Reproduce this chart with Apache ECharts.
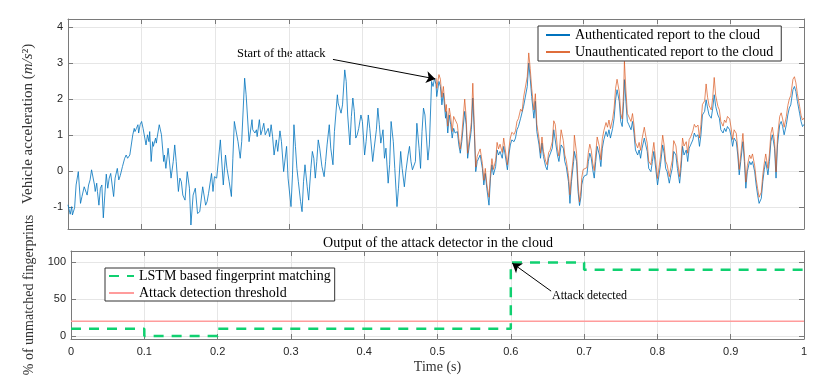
<!DOCTYPE html>
<html>
<head>
<meta charset="utf-8">
<script src="https://cdn.jsdelivr.net/npm/echarts@6/dist/echarts.min.js"></script>
<style>
  html, body { margin: 0; padding: 0; background: #fff; }
  #main { width: 830px; height: 381px; }
</style>
</head>
<body>
<div id="main"></div>
<script>
// acceleration (m/s^2) sent to the cloud, [time s, value]
const authenticated = [
  [0.000,-0.93],[0.002,-0.98],[0.003,-1.19],[0.005,-0.98],[0.006,-1.21],[0.009,-1.01],[0.011,-0.38],[0.012,-0.43],[0.014,-0.01],[0.017,-0.89],[0.019,-0.70],
  [0.020,-0.75],[0.022,-0.43],[0.024,-0.47],[0.026,-0.66],[0.028,-0.38],[0.030,-0.24],[0.032,0.04],[0.034,-0.01],[0.036,-0.38],[0.037,-0.56],
  [0.039,-0.33],[0.040,-0.56],[0.042,-0.94],[0.044,-0.47],[0.046,-0.38],[0.048,-1.29],[0.050,-0.66],[0.052,-0.08],[0.054,-0.47],[0.056,-0.19],
  [0.058,-0.06],[0.060,-0.38],[0.062,-0.70],[0.064,-0.19],[0.067,0.08],[0.069,-0.24],[0.071,-0.12],[0.073,-0.10],[0.074,0.13],[0.077,0.36],
  [0.079,0.45],[0.081,0.36],[0.084,0.45],[0.086,0.41],[0.088,1.01],[0.090,1.19],[0.091,1.10],[0.093,1.19],[0.095,1.29],[0.096,1.06],
  [0.098,1.29],[0.100,1.38],[0.102,1.19],[0.104,1.15],[0.106,0.73],[0.108,1.01],[0.110,0.82],[0.111,1.10],[0.113,0.27],[0.115,0.82],
  [0.116,0.69],[0.119,0.92],[0.120,0.78],[0.121,0.92],[0.124,1.29],[0.126,1.33],[0.127,1.01],[0.130,0.27],[0.131,0.45],[0.133,0.08],
  [0.136,0.64],[0.137,0.45],[0.140,-0.19],[0.143,0.27],[0.145,0.73],[0.147,0.27],[0.150,-0.56],[0.152,-0.19],[0.154,-0.29],[0.156,-0.66],
  [0.159,-0.80],[0.162,-0.01],[0.165,-0.47],[0.167,-1.49],
  [0.170,-0.66],[0.172,-0.70],[0.173,-0.47],[0.176,-1.17],[0.179,-1.12],[0.183,-0.43],[0.187,-0.94],[0.189,-0.84],[0.191,-0.61],[0.195,-0.06],
  [0.197,-0.56],[0.199,-0.15],[0.202,-0.19],[0.207,0.87],[0.211,-0.38],[0.214,0.45],[0.216,0.08],[0.219,-0.29],[0.222,-0.70],[0.224,0.36],
  [0.226,1.38],[0.228,1.33],[0.231,0.82],[0.234,0.36],[0.236,0.82],[0.240,2.58],[0.242,2.12],[0.246,0.82],[0.250,1.43],[0.251,1.15],
  [0.254,1.06],[0.256,1.15],[0.257,0.96],[0.260,1.43],[0.262,1.01],[0.264,1.15],[0.266,1.33],[0.268,1.01],[0.270,1.06],[0.272,1.19],
  [0.274,0.96],[0.276,1.29],[0.278,0.96],[0.280,0.45],[0.283,0.87],[0.285,0.55],[0.288,1.12],[0.290,0.82],[0.293,-0.01],[0.297,0.69],
  [0.299,-0.19],[0.303,-0.98],[0.305,-0.10],[0.307,1.29],[0.309,0.69],[0.311,0.08],[0.313,-0.29],[0.316,-0.84],[0.318,-1.12],[0.320,-0.29],
  [0.322,0.18],[0.325,-0.43],[0.327,-0.80],[0.330,0.08],[0.332,0.55],[0.334,0.36],
  [0.336,-0.19],[0.338,0.27],[0.340,0.87],[0.342,0.64],[0.345,0.13],[0.348,-0.15],[0.350,0.27],[0.352,0.73],[0.355,1.29],[0.357,0.64],
  [0.360,0.18],[0.362,1.10],[0.366,2.12],[0.367,1.89],[0.371,1.61],[0.373,1.84],[0.376,2.81],[0.378,2.49],[0.380,1.56],[0.383,0.73],
  [0.385,1.52],[0.387,2.03],[0.389,1.66],[0.391,0.92],[0.393,1.01],[0.395,1.19],[0.398,1.56],[0.400,1.38],[0.403,0.45],[0.405,0.82],
  [0.408,1.56],[0.410,1.19],[0.414,0.27],[0.416,0.64],[0.419,1.15],[0.421,1.75],[0.423,1.29],[0.425,0.78],[0.428,1.15],[0.430,0.36],
  [0.432,0.64],[0.435,-0.33],[0.437,0.18],[0.439,1.38],[0.442,0.82],[0.444,0.08],[0.447,-0.98],[0.449,-0.47],[0.452,0.55],[0.454,0.08],
  [0.457,-0.43],[0.459,-0.01],[0.462,0.45],[0.464,0.69],[0.466,0.27],[0.468,0.04],[0.470,-0.01],[0.472,0.27],[0.474,1.33],[0.477,0.64],
  [0.479,0.08],[0.481,1.10],[0.483,1.75],[0.485,1.56],[0.489,0.31],[0.491,0.73],[0.494,2.49],[0.496,2.35],[0.498,2.58],[0.500,2.40],
  [0.501,2.07],[0.504,2.49],[0.506,2.35],[0.508,1.84],[0.510,2.17],[0.513,1.47],[0.514,1.66],[0.516,1.06],[0.518,1.56],[0.520,1.29],
  [0.522,0.92],[0.524,1.19],[0.526,1.06],[0.529,1.10],[0.531,0.73],[0.533,0.50],[0.535,0.82],[0.539,1.66],[0.541,1.29],[0.543,0.36],
  [0.545,0.31],[0.548,1.15],[0.550,2.03],[0.552,1.10],[0.554,-0.01],[0.556,0.27],[0.558,0.22],[0.560,0.45],[0.563,0.08],[0.565,-0.38],
  [0.567,-0.06],[0.569,-0.47],[0.572,-0.94],[0.574,-0.19],[0.576,0.18],[0.578,-0.10],[0.581,0.13],[0.583,0.59],[0.585,0.45],[0.587,0.55],
  [0.590,0.36],[0.592,0.69],[0.594,0.45],[0.597,0.04],[0.599,0.45],[0.601,0.73],[0.603,0.87],[0.606,0.82],[0.608,0.92],[0.610,1.15],
  [0.612,1.24],[0.615,1.47],[0.617,1.43],[0.619,1.80],[0.621,1.75],[0.624,2.35],[0.626,3.00],[0.628,2.58],[0.630,2.07],[0.633,1.47],
  [0.635,1.94],[0.637,1.10],[0.640,0.73],[0.642,0.36],[0.644,0.78],[0.646,0.41],[0.649,0.13],[0.651,0.04],[0.653,0.36],[0.655,0.41],
  [0.658,0.64],[0.660,1.15],[0.662,1.10],
  [0.665,0.45],[0.667,0.27],[0.670,0.73],[0.673,0.64],[0.675,0.27],[0.677,0.13],[0.680,-0.29],[0.682,-0.89],[0.684,-0.29],[0.687,0.27],
  [0.688,0.55],[0.691,0.27],[0.693,-0.56],[0.695,-0.95],[0.697,-0.70],[0.698,-0.38],[0.700,-0.19],[0.702,-0.12],[0.705,-0.10],[0.707,0.27],
  [0.709,0.50],[0.711,0.36],[0.713,0.04],[0.715,-0.19],[0.717,0.27],[0.719,0.69],[0.722,0.45],[0.724,0.13],[0.726,0.64],[0.728,0.87],
  [0.731,1.10],[0.733,0.96],[0.735,1.15],[0.737,0.92],[0.740,1.19],[0.742,1.47],[0.744,1.98],[0.746,2.26],[0.749,1.94],[0.751,1.38],
  [0.753,1.24],[0.755,1.94],[0.756,2.54],[0.758,1.94],[0.760,1.38],[0.762,1.29],[0.765,1.15],[0.767,1.38],[0.769,1.06],[0.771,0.59],
  [0.774,0.45],[0.776,0.59],[0.778,0.36],[0.780,0.64],[0.783,0.92],[0.785,0.73],[0.787,0.55],[0.789,0.08],[0.792,-0.01],[0.794,0.27],
  [0.796,0.55],[0.799,-0.01],[0.801,-0.38],[0.803,-0.10],[0.805,0.18],[0.808,0.73],[0.810,0.50],[0.812,0.08],[0.814,-0.01],[0.817,-0.33],
  [0.819,-0.10],[0.821,0.08],[0.823,0.55],[0.826,0.45],[0.828,0.08],
  [0.831,-0.33],[0.833,0.08],[0.835,0.69],[0.837,0.45],[0.840,0.59],[0.842,0.27],[0.844,0.64],[0.846,0.73],[0.849,0.87],[0.851,1.06],
  [0.853,0.96],[0.856,1.01],[0.858,0.69],[0.860,1.01],[0.862,1.56],[0.865,1.66],[0.867,1.98],[0.869,1.75],[0.871,1.56],[0.874,1.47],
  [0.876,1.75],[0.878,2.12],[0.880,1.80],[0.883,1.56],[0.885,1.47],[0.887,1.15],[0.890,1.06],[0.892,1.19],[0.894,1.10],[0.896,1.24],
  [0.899,1.15],[0.901,0.96],[0.903,0.69],[0.905,0.92],[0.908,0.82],[0.910,0.45],[0.912,-0.10],[0.914,0.27],[0.917,0.82],[0.919,0.27],
  [0.921,-0.47],[0.923,-0.01],[0.926,0.27],[0.928,0.18],[0.930,0.27],[0.933,-0.01],[0.935,-0.38],[0.937,-0.66],[0.939,-0.89],[0.942,-0.75],
  [0.944,-0.29],[0.946,0.04],[0.948,0.27],[0.951,-0.10],[0.953,0.27],[0.955,0.82],[0.957,1.01],[0.960,0.64],[0.962,-0.19],[0.964,0.73],
  [0.967,1.29],[0.969,1.38],[0.971,1.24],[0.973,1.01],[0.976,1.29],[0.978,1.56],[0.980,1.75],[0.982,1.84],[0.985,2.26],[0.987,2.35],
  [0.989,2.21],[0.991,1.94],[0.994,1.61],[0.996,1.38],[0.998,1.24],[1.000,1.30]
];

const unauthenticated = [
  [0.500,2.58],[0.501,2.30],[0.504,2.68],[0.506,2.55],[0.508,2.05],[0.510,2.35],[0.513,1.65],[0.514,1.85],[0.516,1.25],[0.518,1.75],
  [0.520,1.50],[0.522,1.10],[0.524,1.52],[0.526,1.50],[0.529,1.30],[0.531,0.90],[0.533,0.62],[0.535,1.00],[0.539,2.00],[0.541,1.50],
  [0.543,0.50],[0.545,0.45],[0.548,1.35],[0.550,2.44],[0.552,1.30],[0.554,0.12],[0.556,0.42],[0.558,0.38],[0.560,0.62],[0.563,0.22],
  [0.565,-0.25],[0.567,0.08],[0.569,-0.35],[0.572,-0.72],[0.574,-0.05],[0.576,0.35],[0.578,0.05],[0.581,0.30],[0.583,0.80],[0.585,0.62],
  [0.587,0.75],[0.590,0.52],[0.592,0.92],[0.594,0.62],[0.597,0.18],[0.599,0.62],[0.601,0.92],[0.603,1.08],[0.606,1.02],[0.608,1.12],
  [0.610,1.38],[0.612,1.46],[0.615,1.72],[0.617,1.66],[0.619,2.05],[0.621,2.00],[0.624,2.62],[0.626,3.28],[0.628,2.85],[0.630,2.30],
  [0.633,1.70],[0.635,2.15],[0.637,1.30],[0.640,0.90],[0.642,0.50],[0.644,0.95],[0.646,0.55],[0.649,0.28],[0.651,0.18],[0.653,0.52],
  [0.655,0.58],[0.658,0.82],[0.660,1.40],[0.662,1.30],
  [0.665,0.62],[0.667,0.42],[0.670,1.15],[0.673,0.85],[0.675,0.45],[0.677,0.30],[0.680,-0.12],[0.682,-0.65],[0.684,-0.10],[0.687,0.48],
  [0.688,1.00],[0.691,0.50],[0.693,-0.35],[0.695,-0.85],[0.697,-0.52],[0.698,-0.18],[0.700,0.05],[0.702,0.10],[0.705,0.10],[0.707,0.52],
  [0.709,0.75],[0.711,0.58],[0.713,0.22],[0.715,0.02],[0.717,0.48],[0.719,0.95],[0.722,0.68],[0.724,0.32],[0.726,0.90],[0.728,1.12],
  [0.731,1.35],[0.733,1.22],[0.735,1.42],[0.737,1.18],[0.740,1.45],[0.742,1.75],[0.744,2.30],[0.746,2.55],[0.749,2.20],[0.751,1.60],
  [0.753,1.45],[0.755,2.25],[0.756,3.05],[0.758,2.25],[0.760,1.60],[0.762,1.55],[0.765,1.38],[0.767,1.60],[0.769,1.28],[0.771,0.80],
  [0.774,0.65],[0.776,0.80],[0.778,0.58],[0.780,0.90],[0.783,1.22],[0.785,0.98],[0.787,0.78],[0.789,0.28],[0.792,0.18],[0.794,0.50],
  [0.796,0.80],[0.799,0.20],[0.801,-0.20],[0.803,0.10],[0.805,0.40],[0.808,1.00],[0.810,0.72],[0.812,0.28],[0.814,0.18],[0.817,-0.15],
  [0.819,0.10],[0.821,0.30],[0.823,0.85],[0.826,0.70],[0.828,0.30],
  [0.831,-0.15],[0.833,0.30],[0.835,0.92],[0.837,0.70],[0.840,0.82],[0.842,0.50],[0.844,0.88],[0.846,0.95],[0.849,1.12],[0.851,1.30],
  [0.853,1.22],[0.856,1.28],[0.858,0.92],[0.860,1.30],[0.862,1.85],[0.865,1.95],[0.867,2.42],[0.869,2.05],[0.871,1.82],[0.874,1.70],
  [0.876,2.05],[0.878,2.60],[0.880,2.10],[0.883,1.80],[0.885,1.70],[0.887,1.38],[0.890,1.25],[0.892,1.42],[0.894,1.35],[0.896,1.52],
  [0.899,1.45],[0.901,1.20],[0.903,0.88],[0.905,1.15],[0.908,1.05],[0.910,0.62],[0.912,0.05],[0.914,0.45],[0.917,1.05],[0.919,0.45],
  [0.921,-0.30],[0.923,0.15],[0.926,0.45],[0.928,0.35],[0.930,0.48],[0.933,0.15],[0.935,-0.22],[0.937,-0.48],[0.939,-0.72],[0.942,-0.58],
  [0.944,-0.10],[0.946,0.22],[0.948,0.48],[0.951,0.08],[0.953,0.48],[0.955,1.05],[0.957,1.22],[0.960,0.82],[0.962,-0.02],[0.964,0.95],
  [0.967,1.52],[0.969,1.62],[0.971,1.45],[0.973,1.22],[0.976,1.52],[0.978,1.82],[0.980,2.00],[0.982,2.10],[0.985,2.55],[0.987,2.62],
  [0.989,2.45],[0.991,2.15],[0.994,1.80],[0.996,1.55],[0.998,1.42],[1.000,1.48]
];

// detector output, one value per 0.1 s window
const windowStart = [0, 0.1, 0.2, 0.3, 0.4, 0.5, 0.6, 0.7, 0.8, 0.9, 1.0];
const unmatchedPct = [10, 0, 10, 10, 10, 10, 100, 90, 90, 90, 90];
const threshold = 20;

const accelTicks = [-1, 0, 1, 2, 3, 4];
const pctTicks = [0, 50, 100];

const serif = '"Liberation Serif", "DejaVu Serif", serif';
const sans = '"Liberation Sans", Arial, sans-serif';
const boxColor = '#7a7a7a';
const gridColor = '#e6e6e6';

const chart = echarts.init(document.getElementById('main'), null, { renderer: 'canvas' });

function xAx(grid, pos, labels, name) {
  return {
    type: 'value', gridIndex: grid, position: pos, min: 0, max: 1, interval: 0.1,
    axisLine: { show: true, onZero: false, lineStyle: { color: boxColor, width: 1 } },
    axisTick: { show: true, inside: true, length: 5, lineStyle: { color: boxColor } },
    axisLabel: { show: labels, color: '#262626', fontFamily: sans, fontSize: 11, margin: 7 },
    splitLine: { show: pos === 'bottom', lineStyle: { color: gridColor, width: 1 } },
    name: name || '', nameLocation: 'middle', nameGap: 21,
    nameTextStyle: { fontFamily: serif, fontSize: 14, color: '#333' }
  };
}

function yAx(grid, pos, min, max, ticks, labels, name, gap, size) {
  const fs = size || 14;
  return {
    type: 'value', gridIndex: grid, position: pos, min: min, max: max,
    axisLine: { show: true, onZero: false, lineStyle: { color: boxColor, width: 1 } },
    axisTick: { show: true, inside: true, length: 5, customValues: ticks, lineStyle: { color: boxColor } },
    axisLabel: { show: labels, customValues: ticks, color: '#262626', fontFamily: sans, fontSize: 11, margin: 5 },
    splitLine: { show: pos === 'left', lineStyle: { color: gridColor, width: 1 } },
    name: name || '', nameLocation: 'middle', nameGap: gap || 0,
    nameTextStyle: {
      fontFamily: serif, fontSize: fs, color: '#333',
      rich: { i: { fontFamily: serif, fontSize: fs, fontStyle: 'italic', color: '#333' } }
    }
  };
}

const legendBase = {
  orient: 'vertical', selectedMode: false,
  itemHeight: 2, itemGap: 3,
  itemStyle: { color: 'rgba(0,0,0,0)', borderWidth: 0 },
  borderColor: '#333', borderWidth: 1, backgroundColor: '#fff',
  textStyle: { fontFamily: serif, fontSize: 14, color: '#000' }
};

const option = {
  animation: false,
  backgroundColor: '#fff',
  grid: [
    { left: 68, right: 26, top: 19, height: 210 },
    { left: 71, right: 26, top: 251, height: 88 }
  ],
  xAxis: [
    xAx(0, 'bottom', false),
    xAx(0, 'top', false),
    xAx(1, 'bottom', true, 'Time (s)'),
    xAx(1, 'top', false)
  ],
  yAxis: [
    yAx(0, 'left', -1.6, 4.22, accelTicks, true, 'Vehicle acceleration ({i|m/s}²)', 32, 15),
    yAx(0, 'right', -1.6, 4.22, accelTicks, false),
    yAx(1, 'left', -4, 115.5, pctTicks, true, '% of unmatched fingerprints', 33),
    yAx(1, 'right', -4, 115.5, pctTicks, false)
  ],
  legend: [
    Object.assign({}, legendBase, {
      data: ['Authenticated report to the cloud', 'Unauthenticated report to the cloud'],
      left: 538, top: 26, itemWidth: 24, padding: [2, 8, 2, 7]
    }),
    Object.assign({}, legendBase, {
      data: ['LSTM based fingerprint matching', 'Attack detection threshold'],
      left: 105, top: 268, itemWidth: 25, padding: [1, 4, 1, 3]
    })
  ],
  series: [
    {
      name: 'Authenticated report to the cloud', type: 'line',
      xAxisIndex: 0, yAxisIndex: 0, data: authenticated,
      symbol: 'none', lineStyle: { color: '#0072BD', width: 0.8 }, itemStyle: { color: '#0072BD' },
      z: 2
    },
    {
      name: 'Unauthenticated report to the cloud', type: 'line',
      xAxisIndex: 0, yAxisIndex: 0, data: unauthenticated,
      symbol: 'none', lineStyle: { color: '#D95319', width: 0.8, opacity: 0.85 }, itemStyle: { color: '#D95319' },
      z: 3,
      markLine: {
        silent: true, symbol: ['none', 'arrow'], symbolSize: 9,
        lineStyle: { color: '#000', width: 1, type: 'solid', opacity: 1 },
        label: { show: false },
        data: [[{ coord: [0.360, 3.10] }, { coord: [0.499, 2.56] }]]
      }
    },
    {
      name: 'LSTM based fingerprint matching', type: 'line',
      xAxisIndex: 2, yAxisIndex: 2, step: 'end',
      data: windowStart.map((t, i) => [t, unmatchedPct[i]]),
      symbol: 'none', lineStyle: { color: '#10D070', width: 2.5, type: [10, 8] }, itemStyle: { color: '#10D070' },
      z: 3,
      markLine: {
        silent: true, symbol: ['none', 'arrow'], symbolSize: 9,
        lineStyle: { color: '#000', width: 1, type: 'solid' },
        label: { show: false },
        data: [[{ coord: [0.655, 61] }, { coord: [0.602, 99] }]]
      }
    },
    {
      name: 'Attack detection threshold', type: 'line',
      xAxisIndex: 2, yAxisIndex: 2,
      data: [[0, threshold], [1, threshold]],
      symbol: 'none', lineStyle: { color: '#FF9C9C', width: 1.5 }, itemStyle: { color: '#FF9C9C' },
      z: 2
    }
  ],
  graphic: [
    { type: 'text', x: 237, y: 54, style: { text: 'Start of the attack', font: '12.5px ' + serif, fill: '#000', verticalAlign: 'middle' } },
    { type: 'text', x: 552, y: 296, style: { text: 'Attack detected', font: '12px ' + serif, fill: '#000', verticalAlign: 'middle' } },
    { type: 'text', x: 438, y: 243, style: { text: 'Output of the attack detector in the cloud', font: '14px ' + serif, fill: '#000', align: 'center', verticalAlign: 'middle' } }
  ]
};

chart.setOption(option);
</script>
</body>
</html>
